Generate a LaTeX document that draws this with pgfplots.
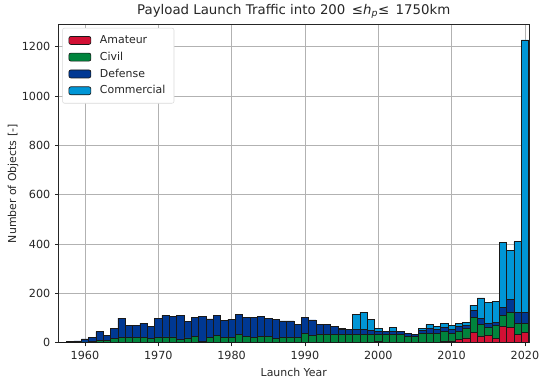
\documentclass[border=0pt]{standalone}
\usepackage{pgfplots}
\usepackage{pgfplotstable}
\pgfplotsset{compat=1.18}
\usepackage{fontspec}
\setmainfont{DejaVu Sans}
\definecolor{amcol}{RGB}{210,16,52}
\definecolor{cicol}{RGB}{0,132,61}
\definecolor{decol}{RGB}{0,56,147}
\definecolor{cocol}{RGB}{0,150,214}
\definecolor{edgecol}{RGB}{25,25,25}

\pgfplotstableread{
year am ci de co
1957 0 0 2 0
1958 0 1 4 0
1959 0 2 6 0
1960 0 4 12 0
1961 0 6 16 0
1962 0 10 36 0
1963 0 9 20 0
1964 0 18 42 0
1965 0 22 78 0
1966 0 22 48 0
1967 0 22 48 0
1968 0 21 58 0
1969 0 18 50 0
1970 0 21 77 0
1971 0 24 88 0
1972 0 24 84 0
1973 0 13 97 0
1974 0 20 67 0
1975 0 25 79 0
1976 0 6 102 0
1977 0 21 76 0
1978 0 32 81 0
1979 0 22 70 0
1980 0 22 74 0
1981 3 30 82 0
1982 0 25 77 0
1983 0 22 80 0
1984 0 25 83 0
1985 0 25 75 0
1986 0 18 76 0
1987 0 21 68 0
1988 0 21 68 0
1989 0 21 53 0
1990 0 37 67 0
1991 0 32 61 0
1992 0 33 42 0
1993 0 33 41 0
1994 0 33 35 0
1995 0 33 22 3
1996 0 33 23 0
1997 0 33 22 61
1998 0 33 22 69
1999 0 33 19 44
2000 5 28 13 13
2001 0 33 15 0
2002 0 35 13 14
2003 0 35 11 0
2004 0 25 14 0
2005 2 23 10 0
2006 0 39 11 8
2007 0 39 19 16
2008 2 37 16 11
2009 6 40 18 14
2010 8 30 18 14
2011 14 33 19 14
2012 20 37 14 12
2013 42 60 30 21
2014 28 45 26 83
2015 32 31 16 84
2016 19 50 15 83
2017 68 42 35 261
2018 63 60 53 200
2019 36 44 45 285
2020 41 38 43 1106
}\launchdata

\begin{document}
\begin{tikzpicture}
\begin{axis}[
  name=ax,
  scale only axis,
  width=352.9pt, height=238.7pt,
  xmin=1956.4, xmax=2020.55,
  ymin=0, ymax=1290,
  ybar stacked, bar width=1,
  xtick={1960,1970,...,2020},
  ytick={0,200,...,1200},
  /pgf/number format/1000 sep={},
  /pgf/number format/assume math mode=true,
  tick label style={font=\fontsize{8.4}{10}\selectfont, text=black!85},
  every axis x label/.style={at={(rel axis cs:0.5,0)}, anchor=center, yshift=-22.5pt,
    font=\fontsize{8.2}{10}\selectfont, text=black!85},
  every axis y label/.style={at={(rel axis cs:0,0.5)}, anchor=center, rotate=90, yshift=34pt,
    font=\fontsize{8.2}{10}\selectfont, text=black!85},
  every axis title/.style={at={(rel axis cs:0.5,1)}, anchor=center, yshift=9.6pt,
    font=\fontsize{10}{12}\selectfont, text=black!85},
  title={Payload Launch Traffic into 200 \,≤\textit{h}\textsubscript{\textit{p}}≤ \,1750km},
  xlabel={Launch Year},
  ylabel={Number of Objects [-]},
  tick align=outside, tick pos=left,
  major tick length=2.6pt,
  every tick/.style={black!85, line width=0.6pt},
  axis line style={black!85, line width=0.6pt},
  grid=major,
  major grid style={black!30, line width=0.6pt},
  legend style={at={(rel axis cs:0.008,0.99)}, anchor=north west,
    draw=black!15, fill=white, rounded corners=1.5pt,
    font=\fontsize{8.2}{9.6}\selectfont, text=black!85,
    row sep=0.9pt, inner xsep=4.5pt, inner ysep=3.5pt},
  legend cell align=left,
  legend image code/.code={\draw[#1, line width=0.5pt] (0pt,-3pt) rectangle (16.5pt,3pt); \path (21pt,0pt);},
  every axis plot/.append style={draw=edgecol, line width=0.6pt},
]
\addplot[fill=amcol] table[x=year,y=am]{\launchdata};
\addplot[fill=cicol] table[x=year,y=ci]{\launchdata};
\addplot[fill=decol] table[x=year,y=de]{\launchdata};
\addplot[fill=cocol] table[x=year,y=co]{\launchdata};
\legend{Amateur,Civil,Defense,Commercial}
\end{axis}
\pgfresetboundingbox
\path ([xshift=-43.9pt,yshift=-33pt]ax.south west) rectangle ([xshift=18pt,yshift=18.5pt]ax.north east);
\end{tikzpicture}
\end{document}
